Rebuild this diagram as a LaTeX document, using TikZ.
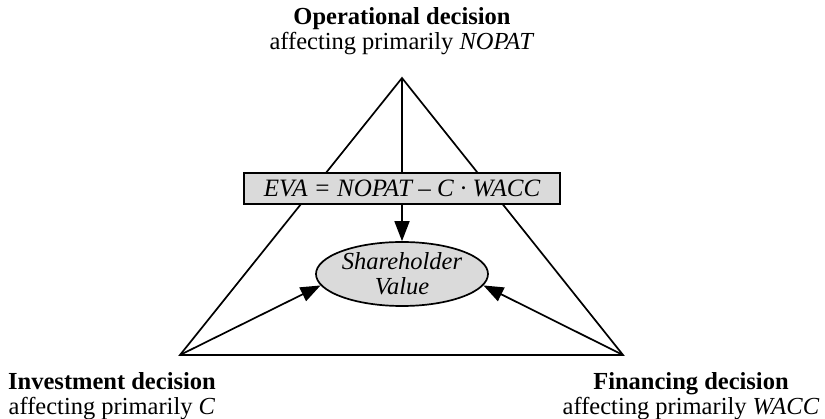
\documentclass[tikz,border=0pt]{standalone}
\usepackage{fontspec}
\setmainfont{Liberation Serif}
\usetikzlibrary{arrows.meta,shapes.geometric}
\definecolor{boxgray}{HTML}{DADADA}
\tikzset{
  edge/.style={line width=1.7pt},
  arr/.style={edge,-{Triangle[length=20pt,width=15pt]}},
  label/.style={align=center,font=\fontsize{24.5}{25}\selectfont,inner sep=0pt},
  formula/.style={draw,line width=1.7pt,fill=boxgray,minimum width=316pt,minimum height=31pt,
    inner sep=0pt,font=\fontsize{25}{26}\selectfont\itshape},
  value/.style={ellipse,draw,line width=1.7pt,fill=boxgray,minimum width=172pt,minimum height=64pt,
    inner sep=0pt,align=center,font=\fontsize{24.5}{25}\selectfont\itshape}
}
\begin{document}
\begin{tikzpicture}[x=1pt,y=-1pt]
\useasboundingbox (0,0) rectangle (825,419);
% corners of the decision triangle
\coordinate (A) at (402,78);
\coordinate (L) at (180,355);
\coordinate (R) at (623,355);
\draw[edge,line join=miter] (L) -- (A) -- (R) -- cycle;
% formula box and shareholder value
\node[formula] (eva) at (402,188.5) {EVA = NOPAT – C · WACC};
\node[value] (sv) at (402,274) {Shareholder\\Value};
\draw[edge] (A) -- (eva.north);
\draw[arr] (eva.south) -- (sv.north);
\draw[arr] (L) -- (sv.188);
\draw[arr] (R) -- (sv.-8);
% decision labels
\node[label] (op) at (402,31.4) {\textbf{Operational decision}\\affecting primarily \textit{NOPAT}};
\node[label] (inv) at (112,396.5) {\textbf{Investment decision}\\affecting primarily \textit{C}};
\node[label] (fin) at (691,396.5) {\textbf{Financing decision}\\affecting primarily \textit{WACC}};
\end{tikzpicture}
\end{document}
